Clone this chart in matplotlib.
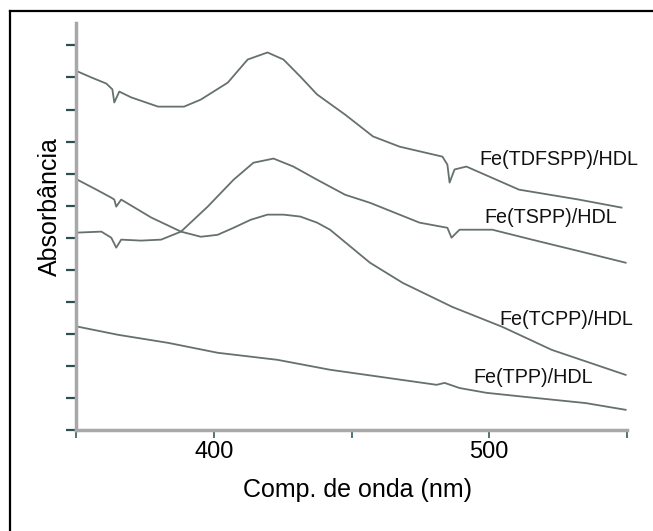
import matplotlib
matplotlib.use("Agg")
import matplotlib.pyplot as plt
from matplotlib.lines import Line2D

plt.rcParams['font.family'] = ['Liberation Sans', 'DejaVu Sans']

# Data (wavelength in nm, absorbance in arbitrary units)
tdfspp_x = [350.5, 355.6, 361, 363.2, 363.9, 365.7, 370, 379.8, 389.2, 395.3, 405.1, 412.3,
            419.5, 425.3, 431.4, 437.5, 447.7, 457.8, 467.5, 483, 484.8, 485.6, 487.4, 491.7,
            510.8, 532.5, 548]
tdfspp_y = [1.119, 1.1, 1.081, 1.063, 1.022, 1.056, 1.038, 1.009, 1.009, 1.031, 1.084, 1.156,
            1.178, 1.156, 1.103, 1.047, 0.984, 0.916, 0.884, 0.853, 0.828, 0.772, 0.813, 0.822,
            0.75, 0.719, 0.694]

tspp_x = [350.5, 359.2, 362.8, 364.6, 366.4, 373.6, 380.9, 388.1, 397.8, 407.2, 414.4, 421.7,
          428.9, 437.5, 447.7, 456.7, 474.7, 484.8, 486.3, 489.2, 501.1, 515.5, 535, 549.5]
tspp_y = [0.616, 0.619, 0.6, 0.569, 0.594, 0.591, 0.594, 0.619, 0.697, 0.781, 0.834, 0.847,
          0.822, 0.781, 0.734, 0.709, 0.647, 0.631, 0.6, 0.625, 0.625, 0.594, 0.553, 0.522]

tcpp_x = [350.5, 357.4, 362.8, 363.9, 364.6, 366.4, 377.3, 388.1, 395.3, 401.4, 407.2, 413.4,
          419.5, 425.3, 431.4, 437.5, 442.2, 456.7, 468.6, 486.6, 504.7, 522.7, 549.5]
tcpp_y = [0.781, 0.75, 0.725, 0.719, 0.697, 0.719, 0.663, 0.619, 0.603, 0.609, 0.631, 0.656,
          0.672, 0.672, 0.666, 0.647, 0.625, 0.522, 0.459, 0.384, 0.322, 0.25, 0.172]

tpp_x = [350.9, 365.3, 383.4, 401.4, 423.1, 442.2, 462.8, 480.9, 483.8, 489.2, 499, 513.4, 535, 549.5]
tpp_y = [0.322, 0.297, 0.272, 0.241, 0.219, 0.188, 0.163, 0.141, 0.147, 0.131, 0.116, 0.103, 0.084, 0.063]

labels = ["Fe(TDFSPP)/HDL", "Fe(TSPP)/HDL", "Fe(TCPP)/HDL", "Fe(TPP)/HDL"]
label_pos = [(525.3, 0.844), (522.4, 0.6625), (527.8, 0.344), (515.9, 0.1625)]

x_major = [400, 500]
x_minor = [350, 450, 550]
y_ticks = [i / 10 for i in range(13)]

fig = plt.figure(figsize=(6.53, 5.31), dpi=100)
ax = fig.add_axes([0.1164, 0.1902, 0.8438, 0.7665])

line_color = '#66706f'
for xs, ys in [(tdfspp_x, tdfspp_y), (tspp_x, tspp_y), (tcpp_x, tcpp_y), (tpp_x, tpp_y)]:
    ax.plot(xs, ys, color=line_color, lw=1.3)

for lab, (lx, ly) in zip(labels, label_pos):
    ax.text(lx, ly, lab, fontsize=14.2, ha='center', va='center', color='#111111')

ax.set_xlim(350, 550)
ax.set_ylim(0, 1.27)

for s in ['top', 'right']:
    ax.spines[s].set_visible(False)
for s in ['left', 'bottom']:
    ax.spines[s].set_color('#a8a8a8')
    ax.spines[s].set_linewidth(2.5)

# dotted overlay on the axes
ax.plot([0, 1], [0, 0], transform=ax.transAxes, color='#1f5f5f', lw=1.2,
        ls=(0, (1, 3)), clip_on=False)
ax.plot([0, 0], [0, 1], transform=ax.transAxes, color='#1f5f5f', lw=1.2,
        ls=(0, (1, 2)), clip_on=False)

ax.set_xticks(x_major)
ax.set_xticks(x_minor, minor=True)
ax.set_xticklabels([str(v) for v in x_major], fontsize=17)
ax.tick_params(axis='x', which='both', direction='out', length=6, width=1.2, color='#2f5f5f', pad=2)
ax.set_yticks(y_ticks)
ax.set_yticklabels([])
ax.tick_params(axis='y', which='both', direction='out', length=7, width=1.6, color='#2f4f4f')

ax.set_xlabel("Comp. de onda (nm)", fontsize=18)
ax.xaxis.set_label_coords(0.51, -0.147)
ax.xaxis.label.set_va('center')
ax.set_ylabel("Absorbância", fontsize=18)
ax.yaxis.set_label_coords(-0.047, 0.548)
ax.yaxis.label.set_va('center')

# figure frame (top and left visible)
fig.add_artist(Line2D([10 / 653, 1.0], [1 - 11 / 531, 1 - 11 / 531], transform=fig.transFigure,
                      color='black', lw=1.6))
fig.add_artist(Line2D([10 / 653, 10 / 653], [0.0, 1 - 11 / 531], transform=fig.transFigure,
                      color='black', lw=1.6))

fig.savefig("out.png", dpi=100)
